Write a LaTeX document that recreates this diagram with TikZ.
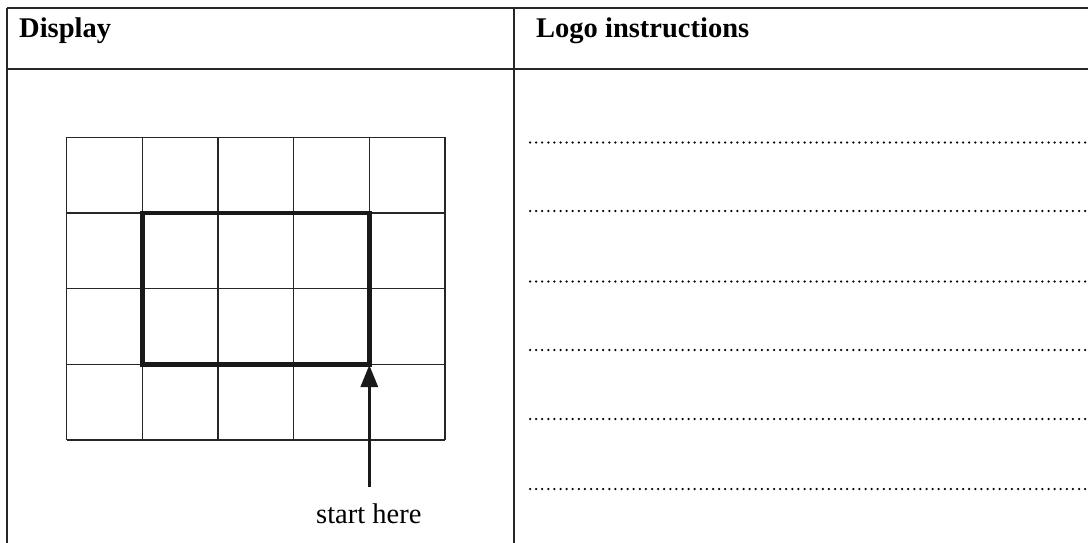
\documentclass[tikz,border=0pt]{standalone}
\usepackage{fontspec}
\setmainfont{Liberation Serif}
\usetikzlibrary{arrows.meta}
\begin{document}
\begin{tikzpicture}[x=1pt,y=-1pt,
  tableline/.style={line width=2pt, draw=black!85},
  gridline/.style={line width=1.3pt, draw=black!85},
  pathline/.style={line width=4.5pt, draw=black!90, line join=miter},
  arrowline/.style={line width=3pt, draw=black!90, -{Triangle[length=22pt,width=17pt]}},
  answerline/.style={line width=2.5pt, dash pattern=on 0pt off 6.1pt, line cap=round},
  headtext/.style={inner sep=0pt, anchor=base west, font=\fontsize{28.5}{34}\selectfont\bfseries},
  plaintext/.style={inner sep=0pt, anchor=base west, font=\fontsize{28.5}{34}\selectfont}]
\useasboundingbox (0,0) rectangle (1088,543);
% table
\draw[tableline] (7.3,8.3) -- (1088,8.3);
\draw[tableline] (7.3,69) -- (1088,69);
\draw[tableline] (7.3,8.3) -- (7.3,543);
\draw[tableline] (514,8.3) -- (514,543);
\node[headtext] (display) at (19,37.5) {Display};
\node[headtext] (logo) at (536,38) {Logo instructions};
% grid
\foreach \i in {0,...,5} {
  \draw[gridline] (66.7+75.67*\i,137.3) -- (66.7+75.67*\i,440);
}
\foreach \j in {0,...,4} {
  \draw[gridline] (66.7,137.3+75.67*\j) -- (445,137.3+75.67*\j);
}
% thick path
\draw[pathline] (142.3,213) rectangle (369.3,364.3);
% arrow
\coordinate (tail) at (369.3,487);
\coordinate (corner) at (369.3,365);
\draw[arrowline] (tail) -- (corner);
\node[plaintext] (start) at (316,523) {start here};
% answer lines
\foreach \y in {142.5,211,281.5,350,419,489} {
  \draw[answerline] (530,\y) -- (1086,\y);
}
\end{tikzpicture}
\end{document}
